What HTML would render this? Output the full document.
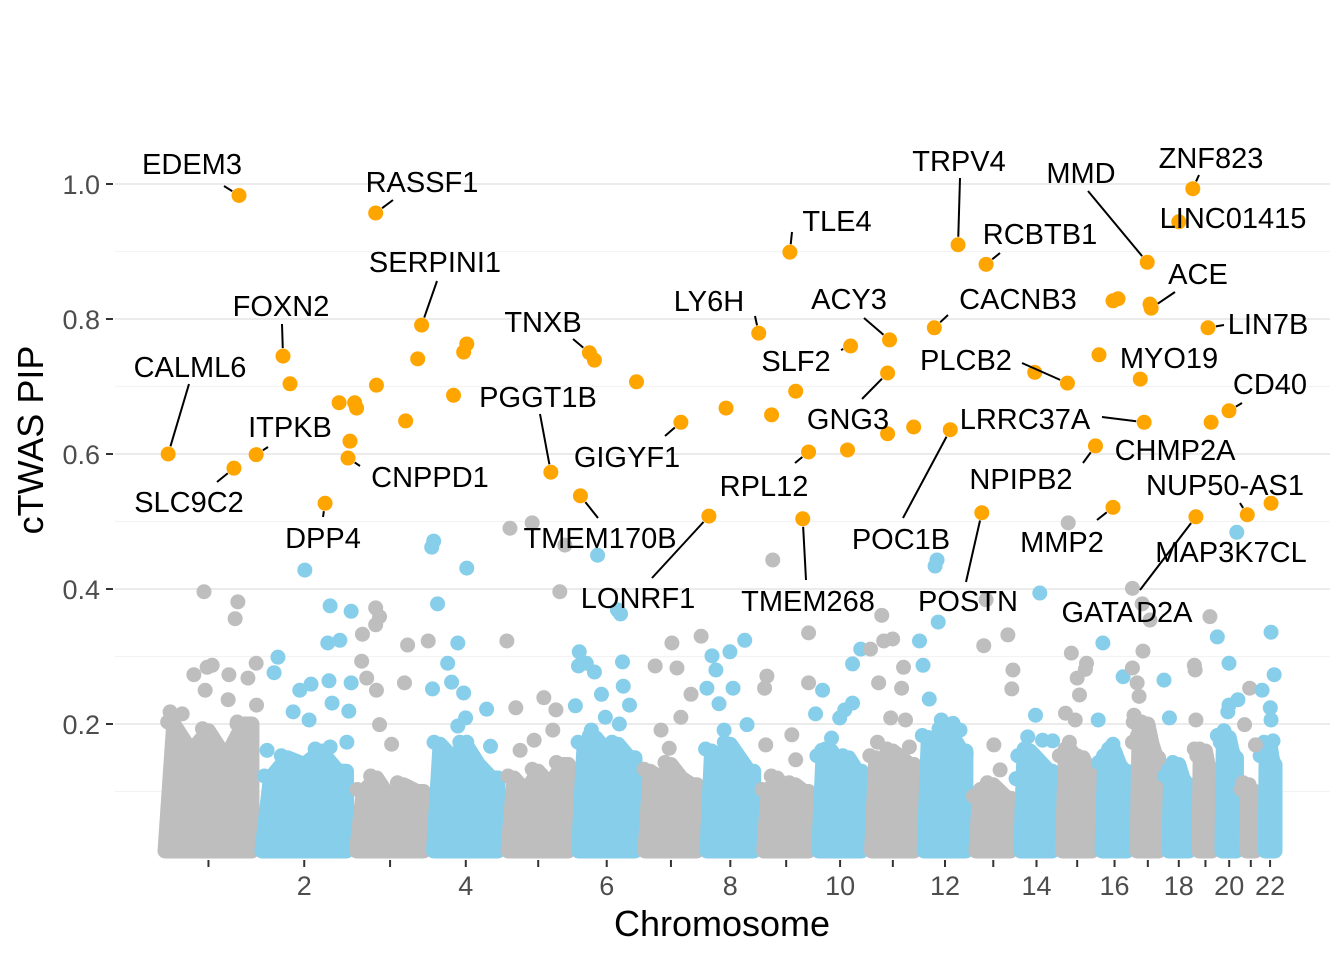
<!DOCTYPE html>
<html><head><meta charset="utf-8"><style>
html,body{margin:0;padding:0;background:#fff;}
svg text{font-family:"Liberation Sans",Arial,sans-serif;}
</style></head><body>
<svg id="chart" width="1344" height="960" viewBox="0 0 1344 960" xmlns="http://www.w3.org/2000/svg">
<rect width="1344" height="960" fill="#fff"/>
<g id="grid"></g>
<g id="bands"></g>
<g id="pts"></g>
<g id="sig"></g>
<g id="labs"></g>
<g id="axes"></g>
<text x="722" y="936" font-size="36" text-anchor="middle" fill="#000">Chromosome</text>
<text transform="translate(43,440) rotate(-90)" font-size="36" text-anchor="middle" fill="#000">cTWAS PIP</text>
</svg>
<script>
const chrSizes=[249,243,198,191,181,171,159,146,141,136,135,133,115,107,102,90,81,78,59,63,48,51];
const yTicks=[0.2,0.4,0.6,0.8,1.0];
const yTickLabels=["0.2","0.4","0.6","0.8","1.0"];
const xTickLabels=["","2","","4","","6","","8","","10","","12","","14","","16","","18","","20","","22"];
const bandProfile=[
[.2,.16,.19,.15,.2],[.12,.15,.14,.16,.13],[.1,.12,.09,.11,.1],[.17,.15,.17,.14,.12],
[.12,.1,.13,.11,.14],[.17,.18,.16,.17,.15],[.13,.12,.14,.12,.11],[.16,.15,.17,.15,.13],
[.1,.12,.1,.11,.1],[.15,.16,.14,.15,.13],[.15,.14,.16,.15,.14],[.18,.17,.19,.18,.16],
[.09,.1,.11,.1,.09],[.15,.16,.15,.14,.13],[.15,.16,.14,.15,.13],[.14,.15,.16,.14,.13],
[.2,.18,.2,.17,.15],[.12,.13,.14,.12,.11],[.16,.15,.16,.14,.13],[.18,.17,.18,.16,.15],
[.1,.11,.1,.09,.1],[.15,.16,.17,.15,.14]];
const bgChr=[1,1,1,1,1,1,1,1,1,1,1,1,1,1,1,1,
2,2,2,2,2,2,2,2,2,2,2,2,2,2,2,2,2,2,
3,3,3,3,3,3,3,3,3,3,3,3,
4,4,4,4,4,4,4,4,4,4,4,4,4,4,
5,5,5,5,5,5,5,5,5,5,5,
6,6,6,6,6,6,6,6,6,6,6,6,6,6,6,6,
7,7,7,7,7,7,7,7,
8,8,8,8,8,8,8,8,8,
9,9,9,9,9,9,9,9,
10,10,10,10,10,10,10,10,10,
11,11,11,11,11,11,11,11,11,11,11,
12,12,12,12,12,12,12,12,12,12,12,
13,13,13,13,13,13,13,
14,14,14,14,14,14,14,
15,15,15,15,15,15,15,15,15,
16,16,16,16,16,
17,17,17,17,17,17,17,17,17,
18,18,
19,19,19,19,
20,20,20,20,20,20,20,20,
21,21,21,
22,22,22,22,22,22];
const bgPos=[113,200,193,26,87,121,134,116,177,226,175,198,57,247,248,141,
123,54,44,110,139,93,188,182,213,242,185,242,193,236,188,231,26,134,
62,62,28,72,26,144,197,64,136,39,72,103,
13,8,98,23,75,49,59,90,10,149,95,75,159,98,
18,75,10,105,33,136,146,159,128,44,80,
62,113,121,15,13,126,54,128,33,72,5,82,46,118,95,144,
82,157,95,131,39,105,54,75,
110,72,26,36,13,80,44,57,116,
36,21,128,128,85,18,95,15,
121,100,23,5,80,100,67,46,21,
39,44,10,67,31,95,90,62,100,28,110,
41,46,49,1,10,26,57,59,87,105,121,
39,33,95,108,105,59,75,
62,51,31,69,95,21,1,
28,36,51,57,21,46,72,75,31,
15,67,41,33,3,
1,26,28,1,13,18,5,1,46,
1,15,
41,1,3,5,
1,31,54,31,28,18,33,51,
21,8,36,
28,36,5,26,28,33];
const bgPip=[.396,.381,.356,.218,.273,.284,.287,.25,.273,.268,.236,.2,.215,.29,.228,.147,
.428,.299,.276,.25,.259,.218,.375,.32,.324,.367,.264,.261,.231,.219,.166,.173,.161,.206,
.372,.347,.333,.359,.293,.317,.323,.25,.261,.268,.199,.17,
.471,.462,.431,.378,.32,.29,.262,.246,.252,.222,.209,.197,.167,.173,
.49,.498,.323,.239,.224,.221,.396,.465,.191,.161,.176,
.45,.369,.363,.307,.286,.292,.277,.256,.29,.244,.227,.21,.191,.2,.169,.228,
.32,.33,.283,.244,.286,.21,.191,.164,
.324,.307,.301,.28,.253,.253,.23,.191,.199,
.443,.271,.335,.261,.184,.169,.147,.253,
.311,.289,.25,.215,.221,.231,.209,.179,.161,
.361,.323,.311,.326,.261,.284,.253,.209,.206,.173,.166,
.434,.443,.351,.323,.287,.237,.206,.176,.201,.191,.156,
.384,.316,.332,.28,.252,.169,.132,
.394,.213,.181,.176,.175,.161,.119,
.498,.305,.268,.243,.216,.206,.281,.29,.173,
.32,.27,.17,.147,.206,
.401,.378,.308,.283,.261,.241,.213,.173,.354,
.265,.209,
.359,.287,.28,.206,
.329,.29,.236,.228,.218,.19,.176,.484,
.253,.199,.169,
.336,.273,.25,.224,.206,.175];
const genes=["EDEM3","RASSF1","SERPINI1","FOXN2","CALML6","SLC9C2","ITPKB","DPP4","CNPPD1","TNXB","PGGT1B","TMEM170B","GIGYF1","LONRF1","LY6H","TLE4","SLF2","ACY3","GNG3","RPL12","TMEM268","TRPV4","RCBTB1","CACNB3","PLCB2","POC1B","POSTN","LRRC37A","NPIPB2","MMD","ZNF823","LINC01415","ACE","LIN7B","MYO19","CD40","CHMP2A","MMP2","NUP50-AS1","MAP3K7CL","GATAD2A"];
const geneChr=[1,3,3,2,1,1,1,2,2,6,5,6,7,8,8,9,10,11,11,9,9,12,13,12,15,12,13,17,15,17,18,18,17,19,17,20,19,16,21,22,19];
const genePos=[203,62,180,67,21,190,247,175,234,41,123,18,105,18,146,80,95,59,54,128,113,100,39,39,26,80,28,31,98,39,75,39,49,36,21,31,44,41,15,28,5];
const genePip=[.983,.957,.791,.745,.6,.579,.599,.527,.594,.75,.573,.538,.647,.508,.779,.899,.76,.769,.72,.603,.504,.91,.881,.787,.705,.636,.513,.647,.612,.884,.993,.944,.816,.787,.711,.664,.647,.521,.51,.527,.507];
const oChr=[2,2,3,3,3,3,2,3,4,4,4,6,6,8,9,9,10,11,11,14,16,16,16,17];
const oPos=[85,211,8,13,64,139,239,170,90,98,64,54,162,62,33,95,87,54,121,49,5,41,54,46];
const oPip=[.704,.676,.676,.668,.702,.649,.619,.741,.751,.763,.687,.739,.707,.668,.658,.693,.606,.63,.64,.721,.747,.827,.83,.822];
const labelLayout=[[192,174,224,186],[422,192,393,200],[435,272,437,281],[281,316,282,324],[190,377,189,384],[189,512,217,482],[290,437,268,447],[323,548,323,517],[430,487,360,466],[543,332,573,339],[538,407,540,414],[600,548,598,518],[627,467,665,436],[638,608,652,578],[709,311,755,316],[837,231,792,232],[796,371,841,350],[849,309,864,318],[848,429,862,399],[764,496,795,463],[808,611,806,580],[959,171,960,178],[1040,244,1000,253],[1018,309,948,315],[966,370,1022,363],[901,549,903,518],[968,611,966,582],[1025,429,1102,417],[1021,489,1083,463],[1081,183,1088,191],[1211,168,1199,175],[1233,228,null,null],[1198,284,1175,292],[1268,334,1224,325],[1169,368,null,null],[1270,394,1242,403],[1175,460,null,null],[1062,552,1097,520],[1225,495,1240,503],[1231,562,null,null],[1127,622,1140,590]];

const X0=160,X1=1280,TOT=chrSizes.reduce((a,b)=>a+b,0);
const starts=[];let c=0;for(const s of chrSizes){starts.push(c);c+=s;}
function xs(chr,pos){return X0+(starts[chr-1]+pos)/TOT*(X1-X0);}
function ys(p){return 859-p*675;}
const NS="http://www.w3.org/2000/svg";
const R=7.5;
function mk(tag,attrs,parent){const e=document.createElementNS(NS,tag);for(const k in attrs)e.setAttribute(k,attrs[k]);parent.appendChild(e);return e;}
const colors=["#BEBEBE","#87CEEB"];
const grid=document.getElementById('grid');
[0.1,0.3,0.5,0.7,0.9].forEach(v=>{const l=mk('line',{x1:115,x2:1330,y1:ys(v),y2:ys(v),stroke:'#f3f3f3','stroke-width':1.2},grid);

});
yTicks.forEach(v=>{const l=mk('line',{x1:115,x2:1330,y1:ys(v),y2:ys(v),stroke:'#ebebeb','stroke-width':2},grid);

});
const axes=document.getElementById('axes');
yTicks.forEach((v,i)=>{mk('line',{x1:106,x2:113,y1:ys(v),y2:ys(v),stroke:'#333','stroke-width':2},axes);
const t=mk('text',{x:100,y:ys(v)+10,'font-size':27,'text-anchor':'end',fill:'#4d4d4d'},axes);t.textContent=yTickLabels[i];

});
chrSizes.forEach((s,i)=>{const x=xs(i+1,s/2);mk('line',{x1:x,x2:x,y1:860,y2:867,stroke:'#333','stroke-width':2},axes);
if(xTickLabels[i]){const t=mk('text',{x:x,y:895,'font-size':27,'text-anchor':'middle',fill:'#4d4d4d'},axes);t.textContent=xTickLabels[i];

}});
const bands=document.getElementById('bands');
chrSizes.forEach((s,i)=>{const col=colors[i%2];const prof=bandProfile[i];
const xa=xs(i+1,0)+5,xb=xs(i+1,s)-5;let d=`M${xa} 851`;
prof.forEach((h,k)=>{const x=xa+(xb-xa)*(k+0.5)/prof.length;d+=` L${x} ${ys(h)}`;});
d+=` L${xb} ${ys(prof[prof.length-1])} L${xb} 851 Z`;
const band=mk('path',{d:d,fill:col,stroke:col,'stroke-width':15,'stroke-linejoin':'round'},bands);


for(let k=0;k<prof.length;k++){const x=xa+(xb-xa)*(k+0.5)/prof.length;
const cc=mk('circle',{cx:x-6,cy:ys(prof[k])-2,r:R,fill:col},bands);

}});
const pts=document.getElementById('pts');
bgChr.forEach((ch,i)=>{const p=mk('circle',{cx:xs(ch,bgPos[i]),cy:ys(bgPip[i]),r:R,fill:colors[(ch-1)%2]},pts);

});
const sig=document.getElementById('sig');
oChr.forEach((ch,i)=>{const p=mk('circle',{cx:xs(ch,oPos[i]),cy:ys(oPip[i]),r:R,fill:'#FFA500'},sig);

});
const labs=document.getElementById('labs');
genes.forEach((g,i)=>{const px=xs(geneChr[i],genePos[i]),py=ys(genePip[i]);
const L=labelLayout[i];
if(L[2]!==null){const dx=px-L[2],dy=py-L[3],len=Math.hypot(dx,dy)||1;const ex=px-dx/len*8,ey=py-dy/len*8;
const ln=mk('line',{x1:L[2],y1:L[3],x2:ex,y2:ey,stroke:'#000','stroke-width':2},labs);

}
const p=mk('circle',{cx:px,cy:py,r:R,fill:'#FFA500'},sig);


const t=mk('text',{x:L[0],y:L[1],'font-size':29,'text-anchor':'middle',fill:'#000'},labs);t.textContent=g;

});
</script>
</body></html>
